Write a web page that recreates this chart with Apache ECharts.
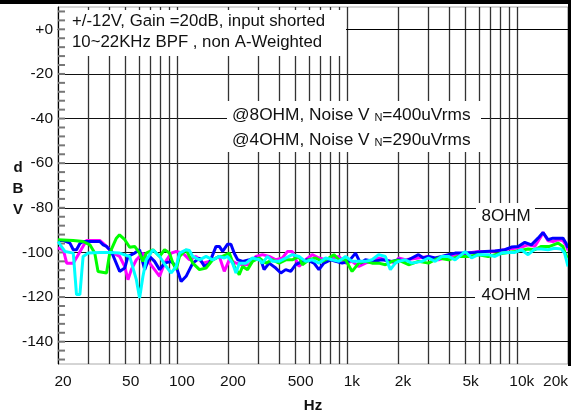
<!DOCTYPE html>
<html><head><meta charset="utf-8">
<script src="https://cdn.jsdelivr.net/npm/echarts@6/dist/echarts.min.js"></script>
<style>html,body{margin:0;padding:0;background:#fff;}#c{width:571px;height:418px;}</style>
</head><body><div id="c"></div>
<script>
const gridHz = [20,30,40,50,60,70,80,90,100,200,300,400,500,600,700,800,900,1000,2000,3000,4000,5000,6000,7000,8000,9000,10000,20000];
const labelHz = [20,50,100,200,500,1000,2000,5000,10000,20000];
const labelText = ['20','50','100','200','500','1k','2k','5k','10k','20k'];
const majorDb = [0,-20,-40,-60,-80,-100,-120,-140];
const majorText = ['+0','-20','-40','-60','-80','-100','-120','-140'];
const minorDb = [8,4,0,-4,-8,-12,-16,-20,-24,-28,-32,-36,-40,-44,-48,-52,-56,-60,-64,-68,-72,-76,-80,-84,-88,-92,-96,-100,-104,-108,-112,-116,-120,-124,-128,-132,-136,-140,-144,-148];

const blueHz = [20,21.5,23.5,24.6,25.7,26.9,28.1,30.8,35.2,36.9,38.6,41.2,42.2,46.1,49.4,51.6,56.5,60.4,64.7,69.2,74,79.2,84.7,92.7,99.1,106,113.4,124.1,135.9,145.3,155.5,170.1,177.9,186,199,208,218,228,244,267,292,312,326,349,382,409,437,468,500,547,585,641,685,733,802,859,939,1027,1125,1203,1287,1439,1610,1842,2016,2206,2412,2640,2825,3022,3309,3615,3959,4334,4960,5676,6496,7430,8504,9296,10178,11138,12176,13330,14260,15252,16314,17450,18670,19520,20000];
const blueDb = [-94.6,-94.6,-95.8,-98.8,-98.8,-96,-95.1,-95.1,-95.1,-96.6,-97.3,-99.6,-100.3,-108.5,-107,-101.8,-100.3,-98.8,-107.7,-101.8,-104,-107.7,-104.8,-104,-106.3,-113,-110.7,-104.8,-102.5,-106.3,-104.8,-97.3,-97.3,-99.5,-96.3,-96.3,-100.5,-103.3,-104,-103.3,-102.5,-103.3,-107.7,-104.8,-107,-109.2,-107.7,-108.5,-105.5,-104,-103.3,-104.8,-107.7,-104.8,-103.3,-104,-104.8,-104,-100.3,-104.8,-103.3,-104,-103.3,-104,-103.3,-104,-102.5,-101,-102.5,-101.8,-102.5,-101.8,-101,-100.3,-100.3,-100,-99.6,-99.3,-98.8,-97.6,-97.3,-95.5,-96.6,-93.6,-91.1,-94.3,-93.6,-93.6,-93.6,-96,-98];

const magentaHz = [20,21.5,22.5,24.6,26.3,29.4,35.2,38.6,42.2,46.1,49.4,51.6,54,57.8,63.2,69.2,74,79.2,84.7,92.7,99.1,108.4,118.6,129.9,142.1,155.5,170.1,177.9,190.2,203.5,222.8,243.6,266.6,291.8,319.1,349.2,382.3,417.9,446.9,477.9,523.2,572.8,626.1,685.3,750.1,820,897.6,982.5,1074,1176,1287,1407,1539,1685,1929,2016,2206,2640,3022,3459,3959,4529,5185,5934,6789,7767,8892,9735,10639,11646,12749,13936,14260,15252,16314,17450,18670,19520,20000];
const magentaDb = [-98,-98.8,-104.8,-104.8,-101,-94.6,-94.6,-97.3,-100.3,-101.8,-106.3,-112.2,-107.7,-103.3,-100.3,-104.8,-107.7,-110.7,-104.8,-100.3,-99.6,-100.3,-103.3,-101.8,-104.8,-104,-102.5,-101.8,-108.5,-103.3,-104.8,-105.5,-105.5,-101.8,-101,-101.8,-103.3,-102.5,-99.6,-99.6,-106.3,-103.3,-101,-102.5,-103.3,-102.5,-101.8,-104.8,-104,-106.3,-104.8,-104,-102.5,-103.3,-104.8,-102.5,-103.3,-102.5,-101.8,-103.3,-101.8,-100.7,-100.3,-99.6,-99.6,-99.3,-98.5,-98.1,-97.6,-96.6,-97.3,-92.6,-91,-94.8,-95.1,-94.3,-94.6,-97,-99];

const greenHz = [20,24.6,28.1,30.8,32.9,34.4,38.6,40.3,44.1,46,49.4,52.8,56.5,60.4,63.2,66.1,72.4,79.2,84.7,90.6,94.8,99.1,103.7,113.4,124.1,135.9,148.6,162.6,177.9,186,203.5,217.8,233,243.6,260.6,278.7,305.2,334,365.1,399.7,437.5,477.9,523.2,547.1,598.9,655.5,716.5,784.3,839,897.6,982.5,1074,1176,1287,1407,1539,1685,1842,2016,2307,2640,3022,3459,3959,4529,5185,5934,6789,7767,8892,9735,11646,12749,13936,15604,17450,18670,19520,20000];
const greenDb = [-94.3,-94.6,-95.1,-96.6,-100.3,-108.5,-109.2,-100.3,-93.6,-92.1,-94.3,-97.7,-97.3,-100.3,-104,-100.3,-98.8,-101.8,-98.8,-100.3,-104.8,-107.7,-101.8,-98.8,-104.8,-107.7,-107,-103.3,-101.8,-101.8,-100.3,-106.3,-110,-106.3,-107.7,-104,-102.5,-104.8,-103.3,-104.8,-103.3,-103.3,-101.8,-105.5,-103.3,-102.5,-104,-102.5,-101,-103.3,-103.3,-108.5,-104.8,-104,-104.8,-104.8,-105.5,-104,-103.5,-105.5,-104,-104.8,-102.5,-103.3,-101.8,-101.8,-101,-101.8,-100.7,-100,-99.6,-98.5,-98.8,-97.3,-97.3,-95.8,-97.3,-101.8,-102];

const cyanHz = [20,22,24.6,25.7,26.9,28.1,30.1,35.2,40.3,46.1,52.8,57.8,60.4,63.2,66.1,72.4,79.2,86.6,92.7,99.1,103.7,113.4,118.6,124.1,135.9,148.6,162.6,177.9,190.2,199,212.8,222.8,233,255,278.7,305.2,319.1,341.3,365.1,399.7,437.5,477.9,523.2,572.8,626.1,685.3,750.1,820,897.6,982.5,1074,1176,1287,1407,1539,1685,1803,1929,2016,2206,2412,2761,3022,3309,3615,3959,4334,4960,5420,5934,6789,7430,8121,8892,9735,10639,11646,12749,13936,15252,16693,18250,19100,20000];
const cyanDb = [-95.1,-99.6,-100.3,-118.9,-118.9,-101.8,-100.3,-100,-100,-100.3,-101.8,-112.2,-120.4,-110.7,-103.3,-98.8,-101.8,-106.3,-109.2,-106.3,-100.3,-98.8,-99.1,-101.8,-103.3,-101.8,-103.3,-101.8,-102.5,-101.8,-104.8,-109.2,-104.8,-104.8,-102.5,-103.3,-104.8,-101.8,-104,-104,-102.5,-101,-101.8,-104,-103.3,-104.8,-102.5,-103.3,-104,-101.8,-104,-104,-104,-103.3,-101,-101.8,-107.7,-104.8,-104,-103.3,-104.8,-104,-102.5,-104,-101.8,-101.8,-103.3,-99.6,-102.5,-101,-101,-101.8,-100.3,-100,-100,-98.8,-101,-98.5,-98.5,-98.8,-98.1,-98.5,-100.3,-106.3];

const FONT = 'Liberation Sans, Arial, sans-serif';
function pairs(xs, ys){ return xs.map((x,i)=>[x, ys[i]]); }
function lbl(list, texts, v){
  let best = 0, d = Infinity;
  list.forEach((x,i)=>{ const e = Math.abs(x - v); if (e < d){ d = e; best = i; } });
  return d < Math.abs(v)*0.01 + 0.01 ? texts[best] : '';
}
function line(name, xs, ys, color){
  return { name, type:'line', data: pairs(xs, ys), showSymbol:false, symbol:'none',
    lineStyle:{ color, width:3 }, itemStyle:{ color }, z:3, silent:true };
}
const chart = echarts.init(document.getElementById('c'), null, {renderer:'canvas'});
chart.setOption({
  animation:false,
  backgroundColor:'#fff',
  grid:{ left:58, right:2, top:7, bottom:53, show:true, borderColor:'#aaa', borderWidth:1 },
  xAxis:{ type:'log', logBase:10, min:20, max:20000,
    name:'Hz', nameLocation:'middle', nameGap:34,
    nameTextStyle:{ fontFamily:FONT, fontSize:15, fontWeight:'bold', color:'#111' },
    axisLine:{ show:true, lineStyle:{ color:'#000', width:1 } },
    axisTick:{ show:false, customValues: gridHz },
    splitLine:{ show:true, lineStyle:{ color:'#333', width:1.3 } },
    minorTick:{ show:false }, minorSplitLine:{ show:false },
    axisLabel:{ customValues: labelHz, formatter: v => lbl(labelHz, labelText, v),
      fontFamily:FONT, fontSize:15.5, color:'#111', margin:10, padding:[0,0,0,10], alignMaxLabel:'right' }
  },
  yAxis:{ type:'value', min:-150, max:10,
    axisLine:{ show:true, lineStyle:{ color:'#000', width:1 } },
    axisTick:{ show:false, customValues: majorDb },
    splitLine:{ show:true, lineStyle:{ color:'#111', width:1 } },
    axisLabel:{ customValues: majorDb, formatter: v => lbl(majorDb, majorText, v),
      fontFamily:FONT, fontSize:15.5, color:'#111', margin:5 }
  },
  series:[
    { name:'minorTicks', type:'custom', silent:true, z:1, clip:false,
      data: minorDb.map(v => [20, v]),
      encode:{ x:0, y:1 },
      renderItem:(params, api) => {
        const p = api.coord([api.value(0), api.value(1)]);
        return { type:'line', shape:{ x1:p[0], y1:p[1], x2:p[0] + 7, y2:p[1] },
          style:{ stroke:'#777', lineWidth:2 } };
      }
    },
    line('magenta', magentaHz, magentaDb, '#ff00ff'),
    line('blue', blueHz, blueDb, '#0000ff'),
    line('green', greenHz, greenDb, '#00ff00'),
    line('cyan', cyanHz, cyanDb, '#00ffff')
  ],
  graphic:[
    { type:'rect', z:20, shape:{ x:0, y:0, width:571, height:4 }, style:{ fill:'#000' } },
    { type:'rect', z:20, shape:{ x:568, y:0, width:3, height:366 }, style:{ fill:'#000' } },
    { type:'rect', z:20, shape:{ x:65, y:10, width:281, height:46 }, style:{ fill:'#fff' } },
    { type:'text', z:21, style:{ x:72, y:21, text:'+/-12V, Gain =20dB, input shorted', font:'16.8px '+FONT, fill:'#111', verticalAlign:'middle' } },
    { type:'text', z:21, style:{ x:72, y:42, text:'10~22KHz BPF , non A-Weighted', font:'16.8px '+FONT, fill:'#111', verticalAlign:'middle' } },
    { type:'rect', z:20, shape:{ x:227, y:101, width:254, height:51 }, style:{ fill:'#fff' } },
    { type:'text', z:21, style:{ x:232, y:115, text:'@8OHM, Noise V {s|N}=400uVrms', font:'17.3px '+FONT, fill:'#111', verticalAlign:'middle',
        rich:{ s:{ fontSize:11, fontFamily:FONT, fill:'#111', verticalAlign:'bottom' } } } },
    { type:'text', z:21, style:{ x:232, y:140, text:'@4OHM, Noise V {s|N}=290uVrms', font:'17.3px '+FONT, fill:'#111', verticalAlign:'middle',
        rich:{ s:{ fontSize:11, fontFamily:FONT, fill:'#111', verticalAlign:'bottom' } } } },
    { type:'rect', z:20, shape:{ x:476, y:203, width:59, height:25 }, style:{ fill:'#fff' } },
    { type:'text', z:21, style:{ x:506, y:216, text:'8OHM', font:'17px '+FONT, fill:'#111', align:'center', verticalAlign:'middle' } },
    { type:'rect', z:20, shape:{ x:475, y:281, width:62, height:26 }, style:{ fill:'#fff' } },
    { type:'text', z:21, style:{ x:506, y:295, text:'4OHM', font:'17px '+FONT, fill:'#111', align:'center', verticalAlign:'middle' } },
    { type:'text', z:21, style:{ x:18, y:168, text:'d', font:'bold 15px '+FONT, fill:'#111', align:'center', verticalAlign:'middle' } },
    { type:'text', z:21, style:{ x:18, y:189, text:'B', font:'bold 15px '+FONT, fill:'#111', align:'center', verticalAlign:'middle' } },
    { type:'text', z:21, style:{ x:18, y:210, text:'V', font:'bold 15px '+FONT, fill:'#111', align:'center', verticalAlign:'middle' } }
  ]
});
</script></body></html>
